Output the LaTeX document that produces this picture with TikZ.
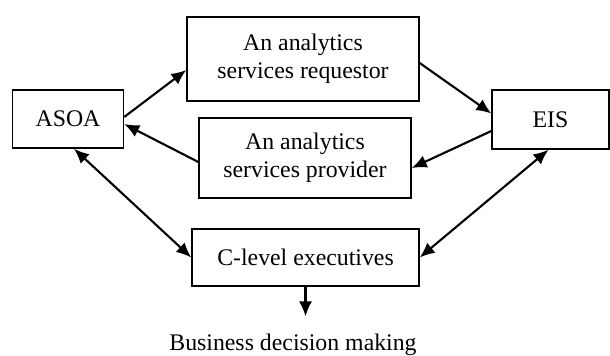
\documentclass[tikz,border=0pt]{standalone}
\usepackage{fontspec}
\setmainfont{Liberation Serif}
\usetikzlibrary{arrows.meta}
\tikzset{every picture/.style={line width=1.05pt}}

\begin{document}
\begin{tikzpicture}[x=.5pt,y=-.5pt,>={Latex[length=7.5pt,width=6.5pt]},
 every node/.style={font=\fontsize{11.9}{14}\selectfont},
 unitbox/.style={draw,line width=.7pt,align=center,inner sep=0pt}]
 \useasboundingbox (0,0) rectangle (610,355);
 % The five boxes, in pixel positions of the drawing.
 \node[unitbox,minimum width=55.5pt,minimum height=29pt] (asoa) at (68,119) {ASOA};
 \node[unitbox,minimum width=116pt,minimum height=42pt] (req) at (303,59)
  {An analytics\\services requestor};
 \node[unitbox,minimum width=106pt,minimum height=40pt] (prov) at (305,158)
  {An analytics\\services provider};
 \node[unitbox,minimum width=58.5pt,minimum height=29.5pt] (eis) at (550.5,119.5) {EIS};
 \node[unitbox,minimum width=113.5pt,minimum height=28.5pt] (clevel) at (305.5,257.5)
  {C-level executives};
 \node[anchor=base,inner ysep=8pt] (biz) at (293,350) {Business decision making};

 \draw[->] ([yshift=1pt]asoa.east) -- ([yshift=-5.5pt]req.west);
 \draw[->] ([yshift=-2pt]prov.west) -- ([yshift=-2.5pt]asoa.east);
 \draw[<->] ([xshift=3pt]asoa.south) -- (clevel.west);
 \draw[->] ([yshift=-2pt]req.east) -- ([yshift=3pt]eis.west);
 \draw[->] ([yshift=-5.75pt]eis.west) -- ([yshift=-5pt]prov.east);
 \draw[<->] ([xshift=-1pt]eis.south) -- (clevel.east);
 \draw[->] (clevel.south) -- (clevel.south |- biz.north);
\end{tikzpicture}
\end{document}
